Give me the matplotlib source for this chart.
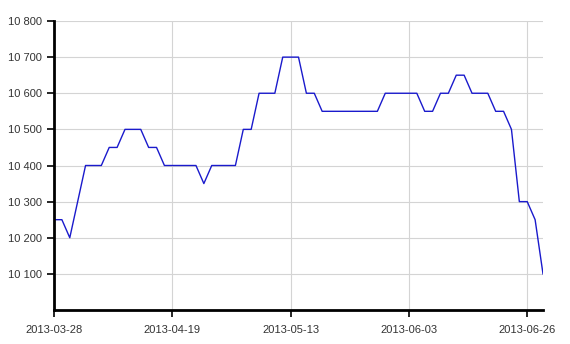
import matplotlib.pyplot as plt
from matplotlib.ticker import FuncFormatter

# closing values, one per trading day
prices = [10250, 10250, 10200, 10300, 10400, 10400, 10400, 10450, 10450, 10500,
          10500, 10500, 10450, 10450, 10400, 10400, 10400, 10400, 10400, 10350,
          10400, 10400, 10400, 10400, 10500, 10500, 10600, 10600, 10600, 10700,
          10700, 10700, 10600, 10600, 10550, 10550, 10550, 10550, 10550, 10550,
          10550, 10550, 10600, 10600, 10600, 10600, 10600, 10550, 10550, 10600,
          10600, 10650, 10650, 10600, 10600, 10600, 10550, 10550, 10500, 10300,
          10300, 10250, 10100]
tick_idx = [0, 15, 30, 45, 60]
tick_labels = ['2013-03-28', '2013-04-19', '2013-05-13', '2013-06-03', '2013-06-26']
y_ticks = [10100, 10200, 10300, 10400, 10500, 10600, 10700, 10800]

plt.rcParams['font.family'] = ['Liberation Sans', 'DejaVu Sans']

fig = plt.figure(figsize=(5.7, 3.44), dpi=100)
ax = fig.add_axes([54 / 570, 34 / 344, 489 / 570, 289 / 344])

ax.plot(range(len(prices)), prices, color='#1a1acc', lw=1)

ax.set_xlim(0, len(prices) - 1)
ax.set_ylim(10000, 10800)
ax.set_xticks(tick_idx)
ax.set_xticklabels(tick_labels)
ax.set_yticks(y_ticks)
ax.yaxis.set_major_formatter(FuncFormatter(lambda v, p: f'{int(v):,}'.replace(',', ' ')))

ax.grid(True, color='#d4d4d4', lw=0.8)
ax.set_axisbelow(True)
for s in ['top', 'right']:
    ax.spines[s].set_visible(False)
for s in ['left', 'bottom']:
    ax.spines[s].set_linewidth(2)
    ax.spines[s].set_color('black')
ax.tick_params(axis='both', length=5, width=1.2, color='black',
               labelsize=8, labelcolor='#333333')
ax.tick_params(axis='x', pad=6)

fig.savefig('out.png', dpi=100)
